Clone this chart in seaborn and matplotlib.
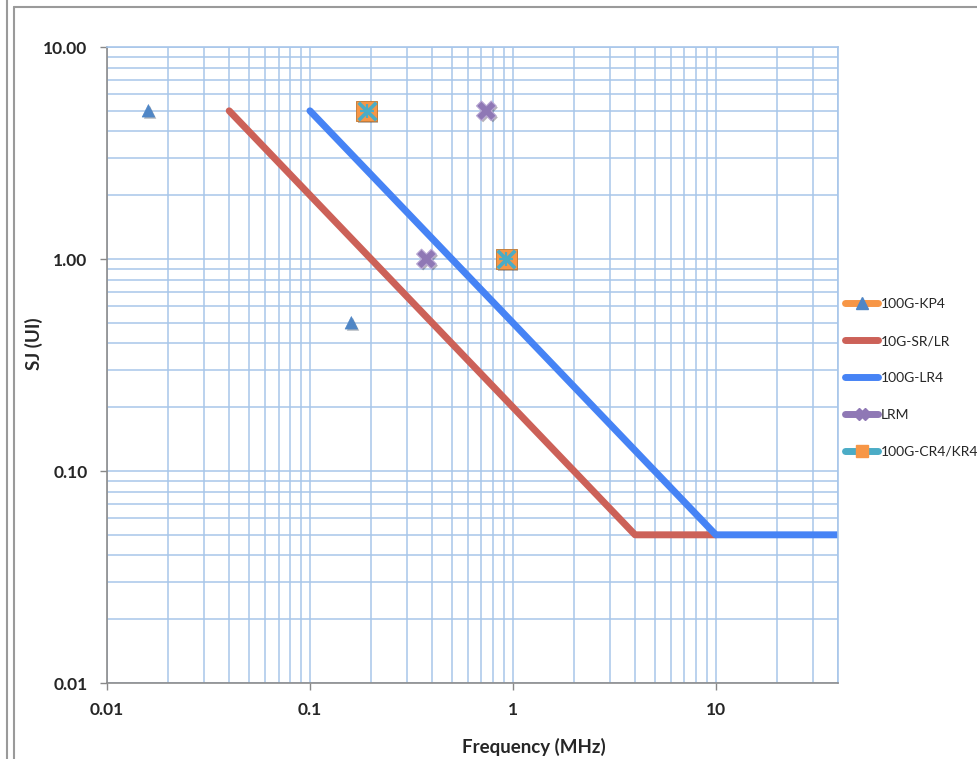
"""SJ tolerance masks, log-log (Excel-style recreation)"""

import matplotlib

matplotlib.use("Agg")
import matplotlib.pyplot as plt
import matplotlib.patheffects as pe
import numpy as np
import seaborn as sns
from matplotlib.lines import Line2D
from matplotlib.ticker import FixedLocator, LogLocator, NullFormatter

# --- data ---
kp4_freq = [0.016, 0.16]
kp4_sj = [5.0, 0.5]

sr_freq = [0.04, 4.0, 10.0]
sr_sj = [5.0, 0.05, 0.05]

lr4_freq = [0.1, 10.0, 40.0]
lr4_sj = [5.0, 0.05, 0.05]

lrm_freq = [0.375, 0.74]
lrm_sj = [1.0, 5.0]

cr4_freq = [0.19, 0.93]
cr4_sj = [5.0, 1.0]

series_names = ["100G-KP4", "10G-SR/LR", "100G-LR4", "LRM", "100G-CR4/KR4"]
x_ticks = [0.01, 0.1, 1, 10]
x_ticklabels = ["0.01", "0.1", "1", "10"]
y_ticks = [0.01, 0.1, 1, 10]
y_ticklabels = ["0.01", "0.10", "1.00", "10.00"]

C_ORANGE = "#F79646"
C_RED = "#CC6158"
C_BLUE = "#4683F5"
C_PURPLE = "#8F78B5"
C_CYAN = "#4BACC6"
C_TRI = "#4F86C6"
GRID = "#A8C6EA"

sns.set_style("white")
plt.rcParams["font.family"] = ["Lato", "DejaVu Sans"]

fig = plt.figure(figsize=(9.78, 7.59), dpi=100)
ax = fig.add_axes([107 / 978, 76 / 759, 731 / 978, 636 / 759])

ax.set_xscale("log")
ax.set_yscale("log")
ax.set_xlim(0.01, 40)
ax.set_ylim(0.01, 10)

# grid
ax.xaxis.set_minor_locator(LogLocator(base=10, subs=np.arange(2, 10)))
ax.yaxis.set_minor_locator(LogLocator(base=10, subs=np.arange(2, 10)))
ax.xaxis.set_minor_formatter(NullFormatter())
ax.yaxis.set_minor_formatter(NullFormatter())
ax.grid(True, which="both", color=GRID, linewidth=1.1)
ax.set_axisbelow(True)

shadow = [pe.SimplePatchShadow(offset=(1.2, -1.2), alpha=0.35), pe.Normal()]

# lines
sns.lineplot(x=sr_freq, y=sr_sj, ax=ax, color=C_RED, linewidth=5,
             solid_capstyle="round", legend=False)
sns.lineplot(x=lr4_freq, y=lr4_sj, ax=ax, color=C_BLUE, linewidth=5,
             solid_capstyle="round", legend=False)

# markers
sns.scatterplot(x=kp4_freq, y=kp4_sj, ax=ax, marker="^", s=80,
                color=C_TRI, edgecolor=C_TRI, linewidth=0.5)
ax.collections[-1].set_path_effects(shadow)
sns.scatterplot(x=lrm_freq, y=lrm_sj, ax=ax, marker="X", s=200,
                color=C_PURPLE, edgecolor="#B9A8D4", linewidth=0.8)
ax.collections[-1].set_path_effects(shadow)
sns.scatterplot(x=cr4_freq, y=cr4_sj, ax=ax, marker="s", s=210,
                color=C_ORANGE, edgecolor="#C0762E", linewidth=0.6)
ax.collections[-1].set_path_effects(shadow)
sns.scatterplot(x=cr4_freq, y=cr4_sj, ax=ax, marker="x", s=160,
                color=C_CYAN, linewidth=2.6)
sns.scatterplot(x=cr4_freq, y=cr4_sj, ax=ax, marker="+", s=100,
                color=C_CYAN, linewidth=1.6)

# ticks
ax.xaxis.set_major_locator(FixedLocator(x_ticks))
ax.yaxis.set_major_locator(FixedLocator(y_ticks))
ax.set_xticklabels(x_ticklabels, fontsize=12.5, fontweight="bold")
ax.set_yticklabels(y_ticklabels, fontsize=12.5, fontweight="bold")
ax.tick_params(which="major", length=5, width=1, color="#888888",
               direction="out", bottom=True, left=True, pad=9)
ax.tick_params(axis="y", pad=9)
ax.tick_params(which="minor", length=0)

for side in ["left", "bottom"]:
    ax.spines[side].set_color("#8C8C8C")
    ax.spines[side].set_linewidth(1.2)
for side in ["top", "right"]:
    ax.spines[side].set_color(GRID)
    ax.spines[side].set_linewidth(1.2)

ax.set_xlabel("Frequency (MHz)", fontsize=13.5, fontweight="bold",
              va="center")
ax.set_ylabel("SJ (UI)", fontsize=13.5, fontweight="bold", va="center")
ax.xaxis.set_label_coords(0.584, -0.1)
ax.yaxis.set_label_coords(-0.1, 0.533)

# legend (Excel style: line + marker)
handles = [
    Line2D([], [], color=C_ORANGE, lw=5, marker="^", ms=8, mfc=C_TRI,
           mec=C_TRI, solid_capstyle="round"),
    Line2D([], [], color=C_RED, lw=5, solid_capstyle="round"),
    Line2D([], [], color=C_BLUE, lw=5, solid_capstyle="round"),
    Line2D([], [], color=C_PURPLE, lw=5, marker="X", ms=9, mfc=C_PURPLE,
           mec=C_PURPLE, solid_capstyle="round"),
    Line2D([], [], color=C_CYAN, lw=5, marker="s", ms=9, mfc=C_ORANGE,
           mec=C_ORANGE, solid_capstyle="round"),
]
fig.legend(handles, series_names, loc="center left",
           bbox_to_anchor=(845 / 978, 1 - 378 / 759), frameon=False,
           fontsize=10, handlelength=2.4, handletextpad=0.2,
           labelspacing=1.8, borderpad=0, borderaxespad=0)

# outer chart frame
fig.add_artist(Line2D([7 / 978, 7 / 978], [0, 1], color="#9A9A9A", lw=1.5))
fig.add_artist(Line2D([14 / 978, 14 / 978], [0, 1 - 7 / 759],
                      color="#9A9A9A", lw=1.5))
fig.add_artist(Line2D([14 / 978, 1], [1 - 7 / 759, 1 - 7 / 759],
                      color="#9A9A9A", lw=1.5))

fig.savefig("out.png", dpi=100)
